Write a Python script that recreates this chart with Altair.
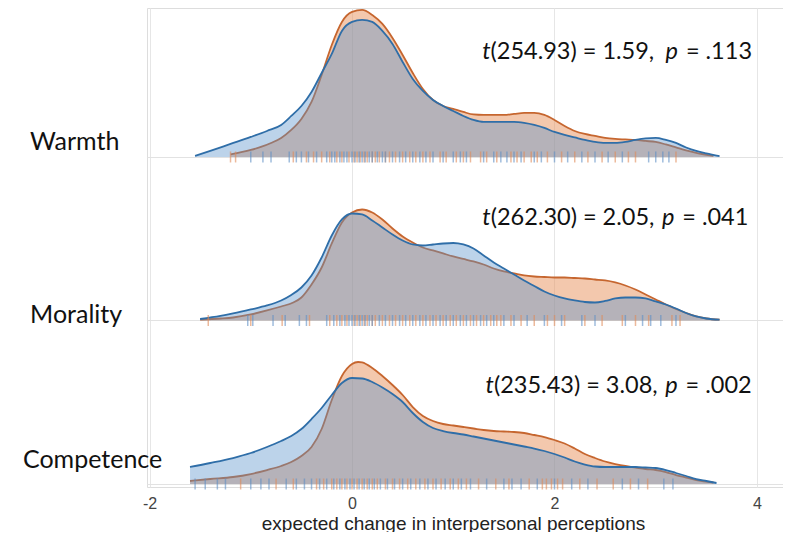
import altair as alt
import pandas as pd

# ---------------- data ----------------
rows = ["Warmth", "Morality", "Competence"]
row_offsets = [2, 1, 0]

# density curves (x value, density; density in hundredths of a ridge-step unit)
warmth_blue_x = [-1.55, -1.4, -1.2, -1.0, -0.84, -0.7, -0.6, -0.5, -0.4, -0.3, -0.2, -0.1, 0.0, 0.1, 0.2, 0.3, 0.4, 0.5, 0.6, 0.7, 0.8, 0.9, 1.0, 1.1, 1.2, 1.3, 1.4, 1.5, 1.6, 1.7, 1.8, 1.9, 2.0, 2.1, 2.2, 2.3, 2.4, 2.5, 2.6, 2.7, 2.8, 2.9, 3.0, 3.1, 3.2, 3.3, 3.4, 3.5, 3.63]
warmth_blue_d = [0.01, 0.06, 0.13, 0.20, 0.26, 0.32, 0.41, 0.51, 0.65, 0.84, 1.03, 1.26, 1.35, 1.37, 1.35, 1.26, 1.13, 0.95, 0.78, 0.66, 0.57, 0.51, 0.46, 0.41, 0.37, 0.35, 0.35, 0.35, 0.35, 0.34, 0.32, 0.29, 0.25, 0.22, 0.195, 0.17, 0.15, 0.14, 0.14, 0.15, 0.17, 0.185, 0.19, 0.17, 0.14, 0.095, 0.06, 0.035, 0.008]
warmth_orange_x = [-1.2, -1.0, -0.9, -0.8, -0.7, -0.6, -0.5, -0.4, -0.3, -0.2, -0.1, 0.0, 0.1, 0.2, 0.3, 0.4, 0.5, 0.6, 0.7, 0.8, 0.9, 1.0, 1.1, 1.2, 1.3, 1.4, 1.5, 1.6, 1.7, 1.8, 1.9, 2.0, 2.1, 2.2, 2.3, 2.4, 2.5, 2.6, 2.7, 2.8, 2.9, 3.0, 3.1, 3.2, 3.3, 3.4, 3.57]
warmth_orange_d = [0.025, 0.07, 0.10, 0.14, 0.19, 0.27, 0.38, 0.55, 0.82, 1.12, 1.35, 1.45, 1.47, 1.42, 1.33, 1.19, 1.02, 0.84, 0.68, 0.57, 0.51, 0.48, 0.45, 0.425, 0.42, 0.42, 0.42, 0.43, 0.44, 0.44, 0.42, 0.37, 0.31, 0.26, 0.23, 0.21, 0.19, 0.18, 0.175, 0.17, 0.16, 0.15, 0.125, 0.095, 0.065, 0.04, 0.01]

morality_blue_x = [-1.5, -1.3, -1.175, -1.0, -0.84, -0.7, -0.6, -0.5, -0.4, -0.3, -0.2, -0.1, 0.0, 0.1, 0.2, 0.3, 0.4, 0.5, 0.6, 0.7, 0.8, 0.9, 1.0, 1.1, 1.2, 1.3, 1.4, 1.5, 1.6, 1.7, 1.8, 1.9, 2.0, 2.1, 2.2, 2.3, 2.4, 2.5, 2.6, 2.7, 2.8, 2.9, 3.0, 3.1, 3.2, 3.3, 3.4, 3.5, 3.63]
morality_blue_d = [0.015, 0.045, 0.07, 0.11, 0.15, 0.20, 0.255, 0.33, 0.45, 0.63, 0.85, 1.01, 1.07, 1.06, 1.00, 0.93, 0.86, 0.80, 0.76, 0.75, 0.76, 0.77, 0.775, 0.76, 0.72, 0.65, 0.58, 0.52, 0.46, 0.40, 0.345, 0.29, 0.25, 0.22, 0.20, 0.185, 0.18, 0.195, 0.22, 0.23, 0.23, 0.22, 0.19, 0.16, 0.12, 0.075, 0.04, 0.02, 0.008]
morality_orange_x = [-1.5, -1.3, -1.175, -1.0, -0.84, -0.7, -0.58, -0.5, -0.4, -0.3, -0.2, -0.1, 0.0, 0.1, 0.2, 0.3, 0.4, 0.5, 0.6, 0.7, 0.8, 0.9, 1.0, 1.1, 1.2, 1.3, 1.4, 1.5, 1.6, 1.7, 1.8, 1.9, 2.0, 2.1, 2.2, 2.3, 2.4, 2.5, 2.6, 2.7, 2.8, 2.9, 3.0, 3.1, 3.2, 3.3, 3.4, 3.5, 3.63]
morality_orange_d = [0.01, 0.02, 0.03, 0.06, 0.10, 0.14, 0.18, 0.23, 0.36, 0.53, 0.77, 0.98, 1.08, 1.11, 1.08, 1.01, 0.92, 0.84, 0.78, 0.73, 0.70, 0.67, 0.64, 0.615, 0.59, 0.56, 0.52, 0.49, 0.47, 0.45, 0.44, 0.435, 0.43, 0.43, 0.425, 0.42, 0.41, 0.40, 0.38, 0.35, 0.31, 0.26, 0.21, 0.16, 0.115, 0.075, 0.04, 0.02, 0.008]

competence_blue_x = [-1.6, -1.4, -1.175, -1.0, -0.84, -0.7, -0.6, -0.5, -0.4, -0.3, -0.2, -0.1, 0.0, 0.1, 0.2, 0.3, 0.4, 0.5, 0.6, 0.7, 0.8, 0.9, 1.0, 1.1, 1.2, 1.3, 1.4, 1.5, 1.6, 1.7, 1.8, 1.9, 2.0, 2.1, 2.2, 2.3, 2.4, 2.5, 2.6, 2.7, 2.8, 2.9, 3.0, 3.1, 3.2, 3.3, 3.4, 3.5, 3.6]
competence_blue_d = [0.17, 0.21, 0.26, 0.31, 0.37, 0.43, 0.48, 0.55, 0.65, 0.76, 0.89, 1.01, 1.06, 1.055, 1.02, 0.965, 0.90, 0.82, 0.71, 0.62, 0.56, 0.53, 0.51, 0.495, 0.475, 0.455, 0.435, 0.415, 0.395, 0.375, 0.355, 0.33, 0.30, 0.265, 0.225, 0.195, 0.175, 0.17, 0.17, 0.17, 0.17, 0.165, 0.16, 0.14, 0.11, 0.08, 0.05, 0.03, 0.01]
competence_orange_x = [-1.6, -1.4, -1.175, -1.0, -0.84, -0.7, -0.6, -0.5, -0.4, -0.3, -0.2, -0.1, 0.0, 0.06, 0.1, 0.2, 0.3, 0.4, 0.5, 0.6, 0.7, 0.8, 0.9, 1.0, 1.1, 1.2, 1.3, 1.4, 1.5, 1.6, 1.7, 1.8, 1.9, 2.0, 2.1, 2.2, 2.3, 2.4, 2.5, 2.6, 2.7, 2.8, 2.9, 3.0, 3.1, 3.2, 3.3, 3.4, 3.57]
competence_orange_d = [0.03, 0.05, 0.07, 0.10, 0.14, 0.18, 0.22, 0.28, 0.37, 0.55, 0.84, 1.08, 1.20, 1.22, 1.215, 1.16, 1.08, 0.99, 0.89, 0.77, 0.68, 0.63, 0.60, 0.585, 0.57, 0.555, 0.54, 0.53, 0.525, 0.52, 0.51, 0.49, 0.47, 0.44, 0.405, 0.355, 0.30, 0.26, 0.225, 0.20, 0.18, 0.165, 0.15, 0.14, 0.12, 0.09, 0.065, 0.04, 0.015]

# rug (individual responses)
warmth_blue_rug = [-1.0, -0.88, -0.8, -0.62, -0.55, -0.5, -0.43, -0.35, -0.25, -0.2, -0.17, -0.12, -0.08, -0.05, 0.0, 0.03, 0.07, 0.1, 0.13, 0.17, 0.2, 0.25, 0.3, 0.33, 0.4, 0.47, 0.53, 0.6, 0.67, 0.73, 0.8, 0.9, 1.0, 1.07, 1.13, 1.3, 1.4, 1.47, 1.53, 1.6, 1.67, 1.8, 1.87, 2.0, 2.13, 2.27, 2.4, 2.53, 2.67, 2.93, 3.0, 3.07, 3.13]
warmth_orange_rug = [-1.2, -1.15, -0.58, -0.45, -0.38, -0.3, -0.22, -0.15, -0.1, -0.03, 0.02, 0.05, 0.08, 0.12, 0.15, 0.2, 0.23, 0.27, 0.33, 0.37, 0.43, 0.5, 0.57, 0.63, 0.7, 0.77, 0.87, 0.93, 1.03, 1.1, 1.17, 1.27, 1.33, 1.43, 1.57, 1.63, 1.7, 1.77, 1.83, 1.93, 2.07, 2.2, 2.33, 2.47, 2.6, 2.73, 2.8, 3.2]
morality_blue_rug = [-1.03, -0.98, -0.78, -0.66, -0.52, -0.45, -0.25, -0.18, -0.12, -0.07, -0.03, 0.0, 0.03, 0.07, 0.1, 0.13, 0.17, 0.2, 0.27, 0.33, 0.4, 0.47, 0.53, 0.6, 0.67, 0.73, 0.8, 0.87, 0.93, 1.0, 1.07, 1.13, 1.2, 1.27, 1.33, 1.4, 1.5, 1.6, 1.73, 1.9, 2.07, 2.27, 2.4, 2.7, 2.87, 2.95, 3.05, 3.2]
morality_orange_rug = [-1.42, -1.0, -0.69, -0.42, -0.22, -0.15, -0.1, -0.05, 0.02, 0.05, 0.08, 0.12, 0.15, 0.2, 0.23, 0.3, 0.37, 0.43, 0.5, 0.57, 0.63, 0.7, 0.77, 0.83, 0.9, 0.97, 1.03, 1.1, 1.17, 1.23, 1.3, 1.37, 1.43, 1.47, 1.57, 1.67, 1.8, 1.93, 2.0, 2.1, 2.3, 2.47, 2.67, 2.8, 2.93, 3.16, 3.24]
competence_blue_rug = [-1.55, -1.45, -1.33, -1.25, -1.0, -0.9, -0.82, -0.65, -0.55, -0.47, -0.4, -0.32, -0.25, -0.18, -0.12, -0.07, -0.02, 0.02, 0.07, 0.12, 0.17, 0.22, 0.28, 0.35, 0.42, 0.5, 0.58, 0.67, 0.75, 0.83, 0.92, 1.0, 1.08, 1.17, 1.33, 1.5, 1.58, 1.67, 1.83, 2.0, 2.17, 2.33, 2.67, 2.83, 3.08, 3.17]
competence_orange_rug = [-1.1, -0.75, -0.58, -0.35, -0.28, -0.2, -0.15, -0.1, -0.05, 0.0, 0.05, 0.1, 0.15, 0.2, 0.25, 0.33, 0.4, 0.47, 0.55, 0.63, 0.72, 0.8, 0.88, 0.97, 1.05, 1.13, 1.25, 1.42, 1.55, 1.75, 1.88, 1.92, 1.97, 2.03, 2.08, 2.25, 2.42, 2.58, 2.75, 2.92]

# t-test annotations
t_parts = ["(254.93) = 1.59,", "(262.30) = 2.05,", "(235.43) = 3.08,"]
p_parts = ["= .113", "= .041", "= .002"]

# ---------------- build tables ----------------
SCALE = 0.6116  # density unit -> ridge step
curve_sets = {
    ("Warmth", "blue"): (warmth_blue_x, warmth_blue_d),
    ("Warmth", "orange"): (warmth_orange_x, warmth_orange_d),
    ("Morality", "blue"): (morality_blue_x, morality_blue_d),
    ("Morality", "orange"): (morality_orange_x, morality_orange_d),
    ("Competence", "blue"): (competence_blue_x, competence_blue_d),
    ("Competence", "orange"): (competence_orange_x, competence_orange_d),
}
rug_sets = {
    ("Warmth", "blue"): warmth_blue_rug,
    ("Warmth", "orange"): warmth_orange_rug,
    ("Morality", "blue"): morality_blue_rug,
    ("Morality", "orange"): morality_orange_rug,
    ("Competence", "blue"): competence_blue_rug,
    ("Competence", "orange"): competence_orange_rug,
}
off = dict(zip(rows, row_offsets))

crec = []
for (r, g), (xs, ds) in curve_sets.items():
    for xv, dv in zip(xs, ds):
        crec.append({"row": r, "group": g, "v": xv, "y": off[r] + dv * SCALE, "base": off[r]})
curves = pd.DataFrame(crec)

rrec = []
for (r, g), xs in rug_sets.items():
    for xv in xs:
        rrec.append({"row": r, "group": g, "v": xv, "y": off[r]})
rug = pd.DataFrame(rrec)

# label / annotation placement (layout)
label_nudge_x = [-3.18, -3.18, -3.25]
label_nudge_y = [0.043, -0.015, 0.098]
labels = pd.DataFrame({
    "label": rows,
    "v": label_nudge_x,
    "y": [o + n for o, n in zip(row_offsets, label_nudge_y)],
})
ann_left = [1.368, 1.370, 1.402]
ann_right = [3.951, 3.915, 3.948]
ann_rise = [0.598, 0.585, 0.555]
ann = pd.DataFrame({
    "row": rows,
    "tp": t_parts,
    "pp": p_parts,
    "v": ann_left,
    "v_end": ann_right,
    "y": [o + a for o, a in zip(row_offsets, ann_rise)],
})

# ---------------- encodings ----------------
XSC = alt.Scale(domain=[-2.025, 4.257], nice=False, zero=False)
YSC = alt.Scale(domain=[-0.0183, 2.911], nice=False, zero=False)
X = alt.X("v:Q", scale=XSC,
          axis=alt.Axis(values=[-2, 0, 2, 4], grid=True, gridColor="#e6e6e6",
                        domain=False, ticks=False, labelExpr="toString(datum.value)",
                        labelFont="Liberation Sans", labelFontSize=16, labelColor="#444",
                        labelPadding=8, titleFont="Liberation Sans", titleFontSize=19,
                        titleFontWeight="normal", titleColor="#222",
                        titleBaseline="alphabetic", titleY=42, titleX=306,
                        titleAlign="center"),
          title="expected change in interpersonal perceptions")
Y = alt.Y("y:Q", scale=YSC,
          axis=alt.Axis(values=[0, 1, 2], grid=True, gridColor="#e2e2e2", labels=False,
                        ticks=False, domain=False),
          title=None)

BLUE_FILL, BLUE_LINE, BLUE_RUG = "#5891ca", "#2f6ea8", "#5f8fc4"
ORNG_FILL, ORNG_LINE, ORNG_RUG = "#e7915b", "#c6662f", "#df8a58"


def area(g, fill, op):
    return alt.Chart(curves[curves.group == g]).mark_area(
        interpolate="monotone", fill=fill, fillOpacity=op, strokeWidth=0
    ).encode(x=X, y=Y, y2="base:Q", detail="row:N")


def line(g, col):
    return alt.Chart(curves[curves.group == g]).mark_line(
        interpolate="monotone", color=col, strokeWidth=1.8
    ).encode(x=X, y=Y, detail="row:N")


def ticks(g, col):
    return alt.Chart(rug[rug.group == g]).mark_tick(
        orient="vertical", size=11, thickness=1.5, opacity=0.6, color=col
    ).encode(x=X, y=Y)


label_layer = alt.Chart(labels).mark_text(
    align="left", baseline="alphabetic", font="Lato", fontSize=25, color="#111"
).encode(x=X, y=Y, text="label:N")

FS = 23.5
t_it = alt.Chart(ann).mark_text(align="right", baseline="alphabetic", font="Lato",
                                fontSize=FS, fontStyle="italic", color="#111"
                                ).encode(x=X, y=Y, text=alt.value("t"))
t_rest = alt.Chart(ann).mark_text(align="left", baseline="alphabetic", font="Lato",
                                  fontSize=FS, color="#111"
                                  ).encode(x=X, y=Y, text="tp:N")
p_rest = alt.Chart(ann).mark_text(align="right", baseline="alphabetic", font="Lato",
                                  fontSize=FS, color="#111"
                                  ).encode(x=alt.X("v_end:Q", scale=XSC), y=Y, text="pp:N")
p_it = alt.Chart(ann).mark_text(align="right", baseline="alphabetic", font="Lato",
                                fontSize=FS, fontStyle="italic", color="#111", dx=-74
                                ).encode(x=alt.X("v_end:Q", scale=XSC), y=Y, text=alt.value("p"))

chart = alt.layer(
    area("orange", ORNG_FILL, 0.5),
    line("orange", ORNG_LINE),
    area("blue", BLUE_FILL, 0.4),
    line("blue", BLUE_LINE),
    ticks("orange", ORNG_RUG),
    ticks("blue", BLUE_RUG),
    label_layer, t_it, t_rest, p_rest, p_it,
).properties(
    width=636, height=479,
    autosize=alt.AutoSizeParams(type="none"),
    padding={"left": 139, "top": 0, "right": 0, "bottom": 45},
).configure_view(stroke=None).configure(background="white")

chart.save("out.html", embed_options={"renderer": "svg", "actions": False})
